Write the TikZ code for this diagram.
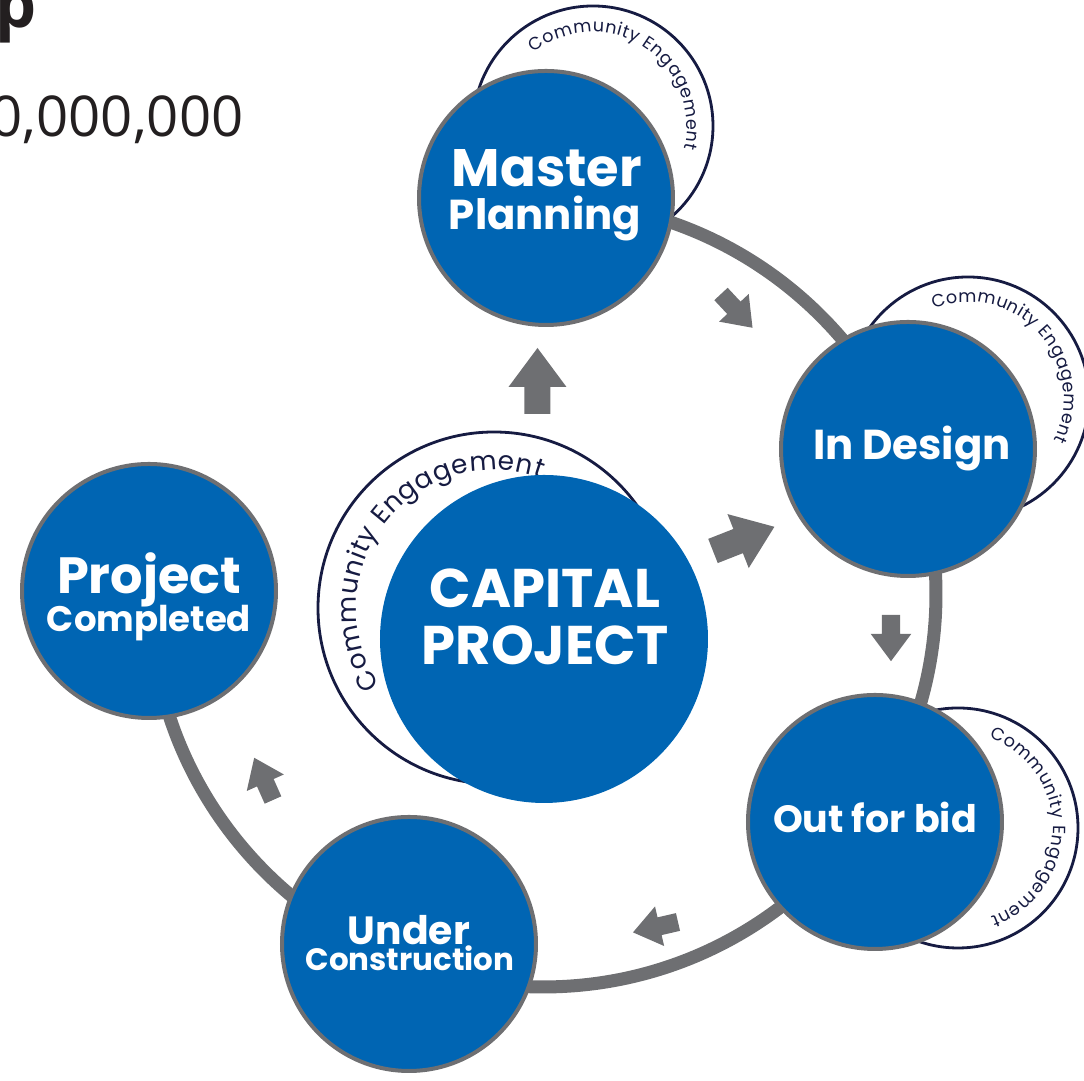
\documentclass[tikz,border=0pt]{standalone}
\usepackage{fontspec}
\setmainfont{Poppins}
\newfontfamily\headfont{Open Sans}
\usetikzlibrary{decorations.text}
\definecolor{capblue}{RGB}{0,101,179}
\definecolor{ringgray}{RGB}{110,111,114}
\definecolor{navy}{RGB}{22,27,66}
\definecolor{inkdark}{RGB}{35,31,32}
\newcommand{\fsz}[1]{\fontsize{#1}{#1}\selectfont}
\newcommand{\blockarrow}[4]{\fill[ringgray, shift={(#1,#2)}, rotate=#3, scale=#4] (0,-.13) -- (.27,-.13) -- (.27,-.29) -- (.66,0) -- (.27,.29) -- (.27,.13) -- (0,.13) -- cycle;}

\begin{document}
\begin{tikzpicture}[
    stage/.style={circle, fill=capblue, draw=ringgray, line width=0.04cm, minimum size=2.54cm, inner sep=0pt},
    engage/.style={circle, draw=navy, line width=0.028cm, fill=white, inner sep=0pt},
    lbl/.style={text=white, anchor=base, inner sep=0pt},
    engtext/.style={decorate, decoration={text along path, text align=fit to path, text color=navy, text={|\fsz{#1}|Community Engagement}}}
  ]
  \useasboundingbox (0,-10.81) rectangle (10.84,0);
  % heading, cut off at the edge
  \node[anchor=base east, inner sep=0pt, text=inkdark, font=\headfont\bfseries\fsz{18.5}] (ttl) at (0.37,-0.28) {p};
  \node[anchor=base east, inner sep=0pt, text=inkdark, font=\headfont\fsz{16}] (amt) at (2.44,-1.37) {0,000,000};
  % cycle ring
  \draw[ringgray, line width=0.13cm] (5.43,-5.94) ++(90:3.93) arc[start angle=90, end angle=-180, radius=3.93];
  % community engagement rings
  \node[engage, minimum size=2.40cm] (mpE) at (5.93,-1.26) {};
  \node[engage, minimum size=2.42cm] (idE) at (9.68,-3.98) {};
  \node[engage, minimum size=2.40cm] (obE) at (9.58,-8.28) {};
  \node[engage, minimum size=3.52cm] (cpE) at (4.94,-6.08) {};
  \path[engtext=5] (mpE.center) ++(129:0.94) arc[start angle=129, end angle=-14, radius=0.94];
  \path[engtext=5] (idE.center) ++(111:0.96) arc[start angle=111, end angle=-26, radius=0.96];
  \path[engtext=5] (obE.center) ++(71:0.95) arc[start angle=71, end angle=-70, radius=0.95];
  \path[engtext=7.5] (cpE.center) ++(214:1.38) arc[start angle=214, end angle=70, radius=1.38];
  % stages
  \node[stage] (mp) at (5.46,-1.98) {};
  \node[stage] (id) at (9.08,-4.49) {};
  \node[stage] (ob) at (8.75,-8.22) {};
  \node[stage] (uc) at (4.09,-9.44) {};
  \node[stage] (pc) at (1.49,-5.91) {};
  \node[circle, fill=capblue, minimum size=3.28cm, inner sep=0pt] (cp) at (5.44,-6.39) {};
  % labels
  \node[lbl, font=\bfseries\fsz{15}] (mpA) at (5.47,-1.87) {Master};
  \node[lbl, font=\bfseries\fsz{11.9}] (mpB) at (5.45,-2.30) {Planning};
  \node[lbl, font=\bfseries\fsz{11.9}] (idA) at (9.12,-4.60) {In Design};
  \node[lbl, font=\bfseries\fsz{10.8}] (obA) at (8.75,-8.33) {Out for bid};
  \node[lbl, font=\bfseries\fsz{11.2}] (ucA) at (4.09,-9.45) {Under};
  \node[lbl, font=\bfseries\fsz{8.8}] (ucB) at (4.10,-9.71) {Construction};
  \node[lbl, font=\bfseries\fsz{14.5}] (pcA) at (1.49,-5.94) {Project};
  \node[lbl, font=\bfseries\fsz{10.1}] (pcB) at (1.49,-6.32) {Completed};
  \node[lbl, font=\bfseries\fsz{15.5}] (cpA) at (5.45,-6.08) {CAPITAL};
  \node[lbl, font=\bfseries\fsz{15.5}] (cpB) at (5.45,-6.65) {PROJECT};
  % arrows
  \blockarrow{5.375}{-4.14}{90}{1}
  \blockarrow{7.13}{-5.51}{21.5}{1}
  \blockarrow{7.21}{-2.94}{-47}{0.7}
  \blockarrow{8.91}{-6.15}{-90}{0.7}
  \blockarrow{6.78}{-9.22}{193}{0.7}
  \blockarrow{2.73}{-8.00}{114}{0.7}
\end{tikzpicture}
\end{document}
